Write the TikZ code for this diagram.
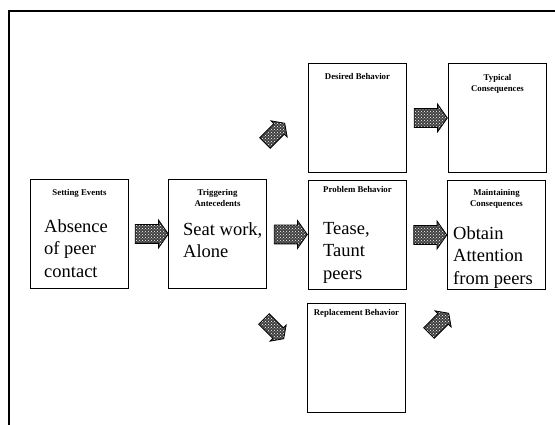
\documentclass[tikz,border=0pt]{standalone}
\usepackage{fontspec}
\setmainfont{Liberation Serif}
\usetikzlibrary{shapes.arrows,patterns,calc}
\tikzset{
	box/.style={draw,line width=1pt,minimum width=98pt,minimum height=109pt,
		anchor=north west,inner sep=0pt},
	boxtitle/.style={font=\bfseries\fontsize{8.8}{11}\selectfont,align=center,
		anchor=north,inner sep=0pt},
	boxtext/.style={font=\fontsize{18.5}{22.5}\selectfont,align=left,
		anchor=north west,inner sep=0pt},
	blockarrow/.style={single arrow,draw,line width=0.8pt,
		preaction={fill=black!75},pattern=crosshatch dots,pattern color=white,
		inner sep=9pt,minimum height=33pt,single arrow head extend=4.5pt,
		single arrow tip angle=110},
	diagarrow/.style={blockarrow,inner sep=7pt,minimum height=28pt,
		single arrow head extend=4pt}
}
\begin{document}
\begin{tikzpicture}[x=1pt,y=-1pt]
	\useasboundingbox (0,0) rectangle (555,425);
	\draw[line width=1.2pt] (555,11)--(9,11)--(9,425);
	\node[box] (setting) at (30,179) {};
	\node[box] (trigger) at (168,179) {};
	\node[box] (desired) at (308,63) {};
	\node[box] (problem) at (308,180) {};
	\node[box] (replace) at (307,303) {};
	\node[box] (typical) at (448,63) {};
	\node[box] (maintain) at (447,180) {};
	\node[boxtitle] (settingT) at ([yshift=-10pt]setting.north) {Setting Events};
	\node[boxtitle] (triggerT) at ([yshift=-10pt]trigger.north) {Triggering\\Antecedents};
	\node[boxtitle] (desiredT) at ([yshift=-10pt]desired.north) {Desired Behavior};
	\node[boxtitle] (problemT) at ([yshift=-6pt]problem.north) {Problem Behavior};
	\node[boxtitle] (replaceT) at ([yshift=-6pt]replace.north) {Replacement Behavior};
	\node[boxtitle] (typicalT) at ([yshift=-11pt]typical.north) {Typical\\Consequences};
	\node[boxtitle] (maintainT) at ([yshift=-9pt]maintain.north) {Maintaining\\Consequences};
	\node[boxtext] (settingX) at ([shift={(14pt,-40pt)}]setting.north west) {Absence\\of peer\\contact};
	\node[boxtext] (triggerX) at ([shift={(15pt,-43pt)}]trigger.north west) {Seat work,\\Alone};
	\node[boxtext] (problemX) at ([shift={(15pt,-42pt)}]problem.north west) {Tease,\\Taunt\\peers};
	\node[boxtext] (maintainX) at ([shift={(6pt,-46pt)}]maintain.north west) {Obtain\\Attention\\from peers};
	\node[blockarrow] (a1) at ($(setting.east)!0.5!(trigger.west)$) {};
	\node[blockarrow] (a2) at ($(trigger.east)!0.5!(problem.west)$) {};
	\node[blockarrow] (a3) at ($(problem.east)!0.5!(maintain.west)$) {};
	\node[blockarrow] (a4) at ($(desired.east)!0.5!(typical.west)$) {};
	\node[diagarrow,rotate=45] (a5) at (273,135) {};
	\node[diagarrow,rotate=-45] (a6) at (272,327) {};
	\node[diagarrow,rotate=45] (a7) at (437,325) {};
\end{tikzpicture}
\end{document}
